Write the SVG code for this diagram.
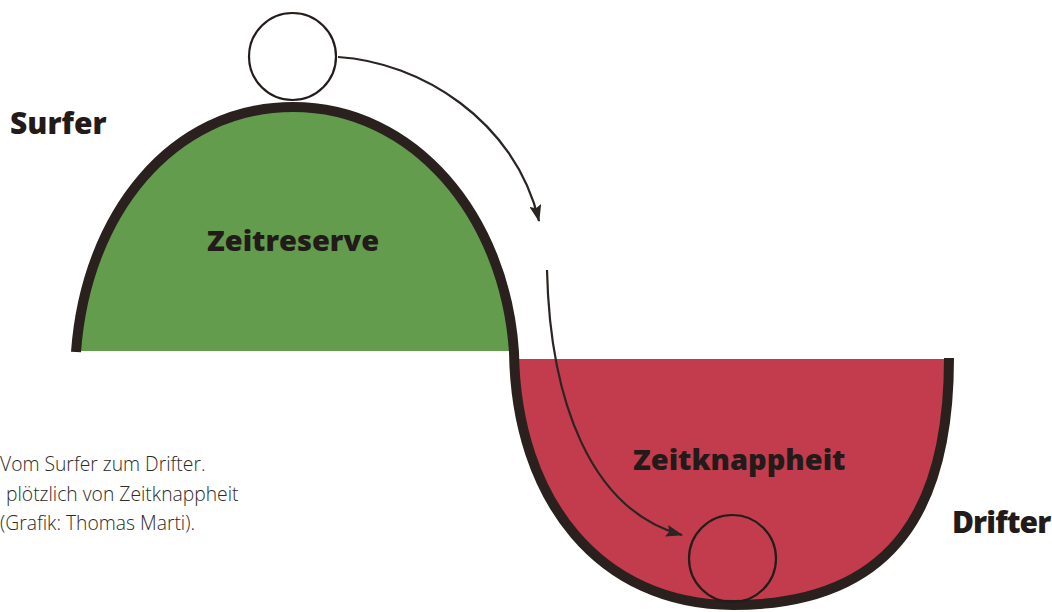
<svg xmlns="http://www.w3.org/2000/svg" width="1052" height="612" viewBox="0 0 1052 612">
<style>
.lbl{font-family:"Open Sans","Liberation Sans",sans-serif;font-weight:800;fill:#221b19}
.cap{font-family:"Open Sans","Liberation Sans",sans-serif;font-weight:300;font-size:19.3px;fill:#2e2a28}
.ball{fill:none;stroke:#231c1a;stroke-width:2.2}
.conn{fill:none;stroke:#2a2422;stroke-width:2.2}
</style>
<defs>
<marker id="ah" viewBox="0 0 17 12" refX="16" refY="6" markerWidth="17" markerHeight="12" markerUnits="userSpaceOnUse" orient="auto">
<path d="M0 0 L17 6 L0 12 L3 6 Z" fill="#2a2422"/>
</marker>
</defs>
<rect width="1052" height="612" fill="#ffffff"/>
<g id="hill">
<path d="M76 351 C86 214, 172 107, 293 107 C414 107, 505 216, 514 351 Z" fill="#629c4c"/>
</g>
<g id="valley">
<path d="M514 359 C516 500, 600 605, 733 605 C900 605, 949 500, 949 359 Z" fill="#c23c4d"/>
</g>
<g id="curve">
<path d="M76 352 C86 214, 172 107, 293 107 C414 107, 505 216, 514 352 C516 500, 600 605, 733 605 C900 605, 949 500, 949 358" fill="none" stroke="#2a211f" stroke-width="10"/>
</g>
<g id="ball-top">
<circle cx="292.5" cy="56.5" r="43.5" fill="#ffffff" stroke="#231c1a" stroke-width="2.2"/>
</g>
<g id="ball-bottom">
<circle class="ball" cx="732.5" cy="558.5" r="43.5"/>
</g>
<g id="connectors">
<path class="conn" d="M338 57 C420 62, 515 120, 539 221" marker-end="url(#ah)"/>
<path class="conn" d="M547 270 C550 400, 590 510, 682 535" marker-end="url(#ah)"/>
</g>
<g id="labels">
<text class="lbl" x="10" y="134" font-size="30">Surfer</text>
<text class="lbl" x="207" y="251" font-size="29">Zeitreserve</text>
<text class="lbl" x="633" y="470" font-size="29">Zeitknappheit</text>
<text class="lbl" x="952" y="533" font-size="30" letter-spacing="-0.9">Drifter</text>
</g>
<g id="caption">
<text class="cap" x="0" y="471">Vom Surfer zum Drifter.</text>
<text class="cap" x="6" y="501">plötzlich von Zeitknappheit</text>
<text class="cap" x="0" y="530">(Grafik: Thomas Marti).</text>
</g>
</svg>
